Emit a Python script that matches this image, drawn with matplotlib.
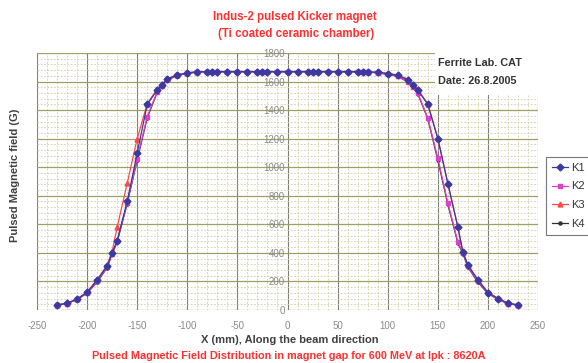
import matplotlib.pyplot as plt
from matplotlib.ticker import MultipleLocator

# measurement positions (mm) and field values (G) for the four kickers
x_mm = [-230, -220, -210, -200, -190, -180, -175, -170, -160, -150, -140, -130,
        -125, -120, -110, -100, -90, -80, -75, -70, -60, -50, -40, -30, -25, -20,
        -10, 0, 10, 20, 25, 30, 40, 50, 60, 70, 75, 80, 90, 100, 110, 120, 125,
        130, 140, 150, 160, 170, 175, 180, 190, 200, 210, 220, 230]

k1 = [35, 47, 76, 124, 210, 308, 401, 485, 760, 1100, 1440, 1541,
      1578, 1618, 1646, 1660, 1668, 1670, 1670, 1670, 1670, 1670, 1670, 1670, 1670, 1670,
      1670, 1670, 1670, 1670, 1670, 1670, 1670, 1670, 1670, 1670, 1670, 1668, 1664, 1656, 1643, 1612, 1578,
      1540, 1440, 1200, 885, 580, 408, 315, 210, 122, 80, 48, 35]
k2 = [33, 45, 74, 120, 200, 300, 395, 480, 750, 1060, 1355, 1530,
      1572, 1612, 1643, 1658, 1667, 1669, 1669, 1669, 1669, 1669, 1669, 1669, 1669, 1669,
      1669, 1669, 1669, 1669, 1669, 1669, 1669, 1669, 1669, 1669, 1669, 1667, 1662, 1652, 1638, 1600, 1565,
      1520, 1345, 1065, 750, 478, 400, 305, 200, 118, 76, 45, 33]
k3 = [36, 48, 78, 126, 212, 315, 410, 580, 887, 1200, 1445, 1548,
      1582, 1620, 1648, 1662, 1669, 1671, 1671, 1671, 1671, 1671, 1671, 1671, 1671, 1671,
      1671, 1671, 1671, 1671, 1671, 1671, 1671, 1671, 1671, 1671, 1671, 1669, 1665, 1658, 1646, 1618, 1585,
      1545, 1445, 1205, 890, 585, 405, 318, 212, 125, 82, 48, 36]
k4 = [34, 46, 73, 118, 195, 296, 392, 476, 745, 1050, 1345, 1525,
      1570, 1610, 1642, 1657, 1666, 1668, 1668, 1668, 1668, 1668, 1668, 1668, 1668, 1668,
      1668, 1668, 1668, 1668, 1668, 1668, 1668, 1668, 1668, 1668, 1668, 1666, 1661, 1650, 1636, 1598, 1560,
      1515, 1340, 1050, 740, 470, 395, 300, 195, 115, 75, 44, 34]

series = ['K1', 'K2', 'K3', 'K4']

plt.rcParams['font.family'] = ['Liberation Sans', 'DejaVu Sans']
plt.rcParams['axes.unicode_minus'] = False

fig = plt.figure(figsize=(5.88, 3.63), dpi=100)
ax = fig.add_axes([37/588, 53/363, 501/588, 257/363])

# grid: dense dashed minor, solid major
ax.xaxis.set_major_locator(MultipleLocator(50))
ax.yaxis.set_major_locator(MultipleLocator(200))
ax.xaxis.set_minor_locator(MultipleLocator(10))
ax.yaxis.set_minor_locator(MultipleLocator(40))
ax.grid(which='minor', color='#cfcda4', linewidth=0.6, linestyle=(0, (2, 2)))
ax.grid(which='major', axis='x', color='#808076', linewidth=0.8)
ax.grid(which='major', axis='y', color='#a0a064', linewidth=0.9)
ax.set_axisbelow(True)

ax.plot(x_mm, k4, '-', color='#303030', marker='o', ms=2.2, lw=0.9, label=series[3], zorder=3)
ax.plot(x_mm, k3, '-', color='#ff4a4a', marker='^', ms=3.5, lw=0.9, label=series[2], zorder=4)
ax.plot(x_mm, k2, '-', color='#e040c8', marker='s', ms=3, lw=0.9, label=series[1], zorder=5)
ax.plot(x_mm, k1, '-', color='#3a3aa0', marker='D', ms=3.5, lw=0.9, label=series[0], zorder=6)

ax.set_xlim(-250, 250)
ax.set_ylim(0, 1800)
for s in ax.spines.values():
    s.set_visible(False)
ax.spines['left'].set_position(('data', 0))
ax.tick_params(which='both', length=0)
ax.tick_params(axis='x', colors='#8a8a8a', labelsize=7, pad=8)
ax.tick_params(axis='y', colors='#8a8a8a', labelsize=7, pad=2)

# white box behind the lab note
ax.add_patch(plt.Rectangle((0.795, 0.835), 0.21, 0.17, transform=ax.transAxes,
                           facecolor='white', edgecolor='none', zorder=2.5))
fig.text(438/588, 1 - 63/363, 'Ferrite Lab. CAT', fontsize=7.8, fontweight='bold',
         color='#333333', va='center')
fig.text(438/588, 1 - 81/363, 'Date: 26.8.2005', fontsize=7.8, fontweight='bold',
         color='#333333', va='center')

h, l = ax.get_legend_handles_labels()
leg = fig.legend(h[::-1], l[::-1], loc='upper left', bbox_to_anchor=(546/588, 1 - 157/363),
                 borderaxespad=0, fontsize=8, frameon=True, fancybox=False,
                 edgecolor='#555555', handlelength=1.5, labelspacing=0.8,
                 borderpad=0.5, handletextpad=0.3)
leg.get_frame().set_linewidth(0.8)
for t in leg.get_texts():
    t.set_color('#333333')

fig.text(295/588, 1 - 17/363, 'Indus-2 pulsed Kicker magnet', ha='center', va='center',
         fontsize=8.3, fontweight='bold', color='#ff3030')
fig.text(296/588, 1 - 34/363, '(Ti coated ceramic chamber)', ha='center', va='center',
         fontsize=8.3, fontweight='bold', color='#ff3030')
fig.text(290/588, 1 - 340/363, 'X (mm), Along the beam direction', ha='center', va='center',
         fontsize=8, fontweight='bold', color='#404040')
fig.text(289/588, 1 - 356/363,
         'Pulsed Magnetic Field Distribution in magnet gap for 600 MeV at Ipk : 8620A',
         ha='center', va='center', fontsize=7.8, fontweight='bold', color='#ff3030')
fig.text(15/588, 1 - 175/363, 'Pulsed Magnetic field (G)', ha='center', va='center',
         rotation=90, fontsize=8, fontweight='bold', color='#404040')

fig.savefig('out.png', dpi=100)
